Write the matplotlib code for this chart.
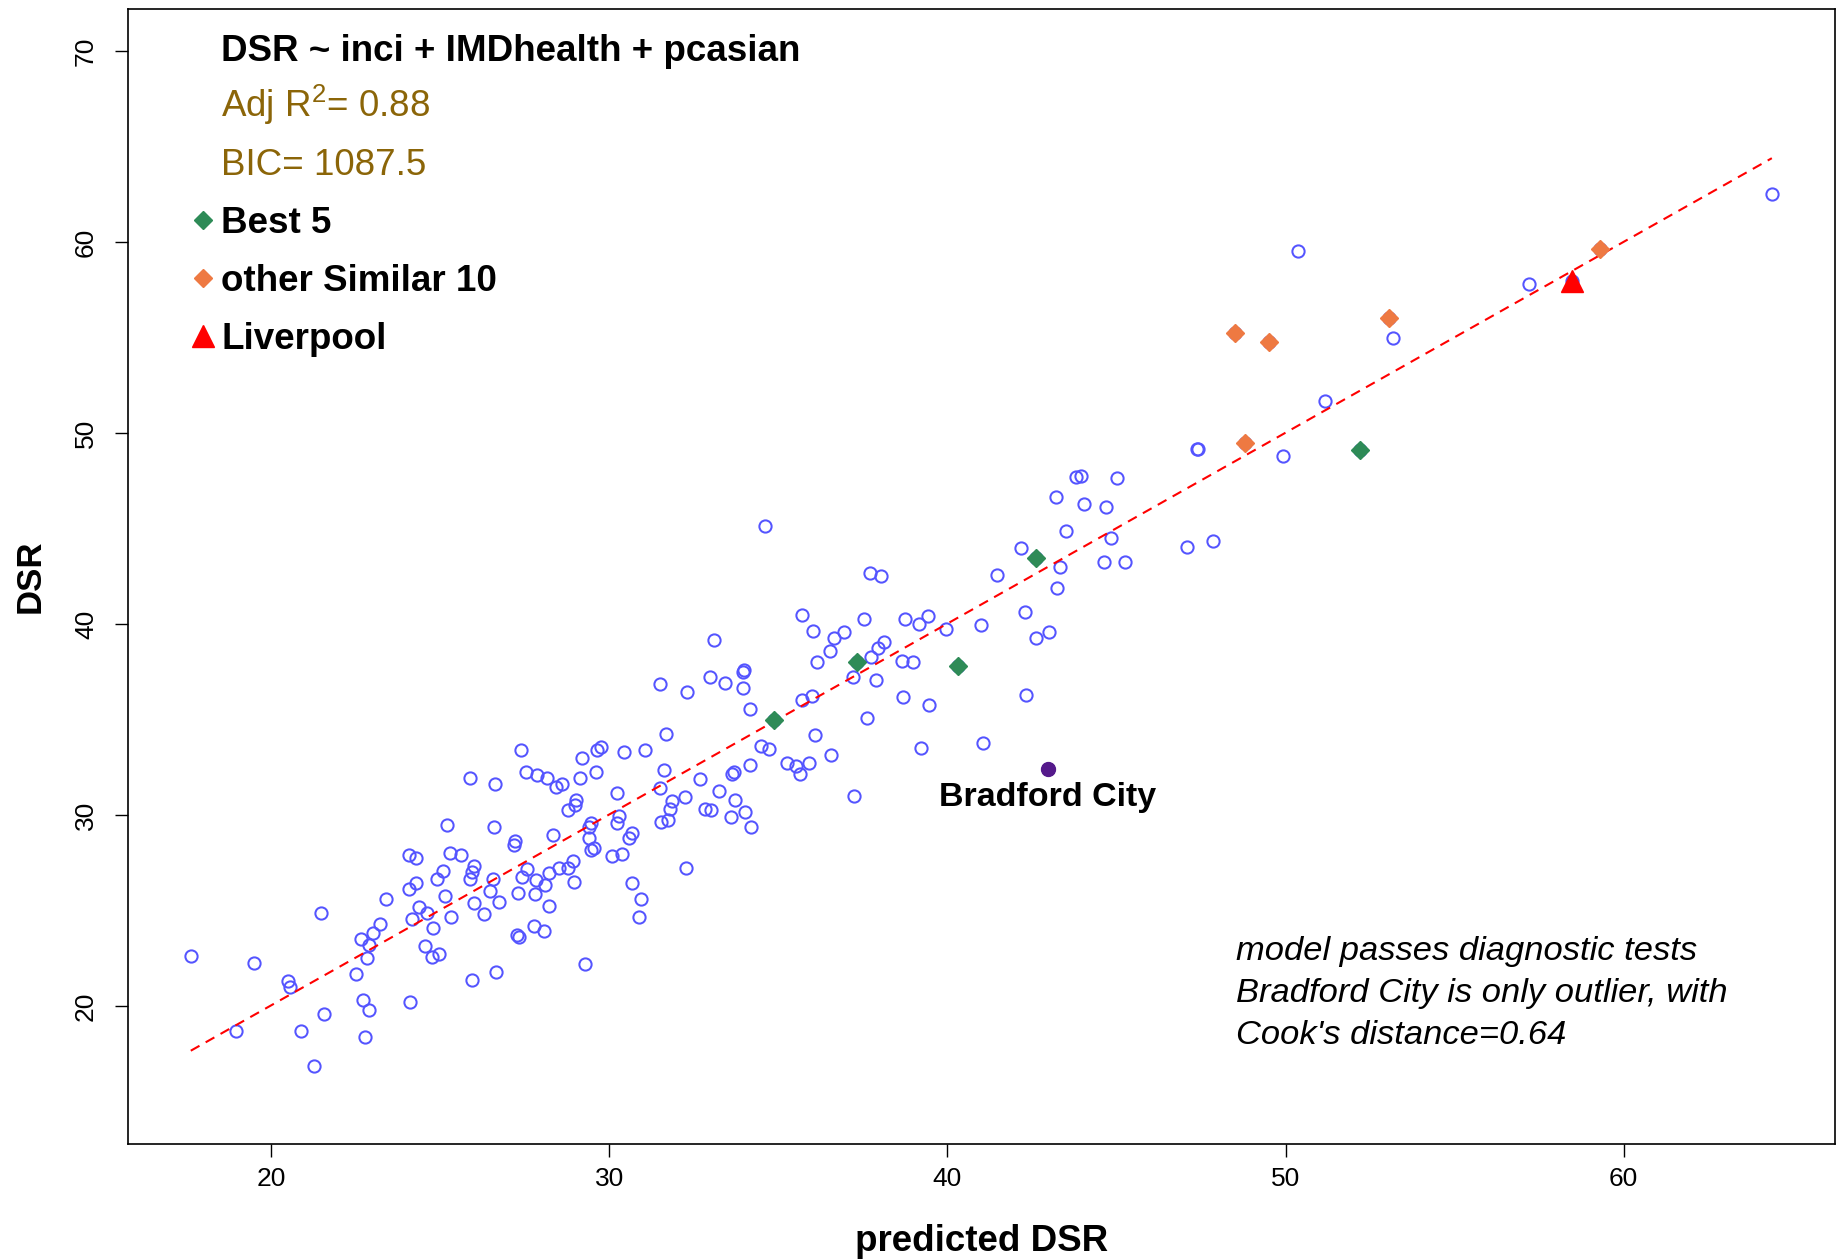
#!/usr/bin/env python3
"""Observed vs predicted DSR for the fitted CCG model, with comparators highlighted."""
import numpy as np

import matplotlib
matplotlib.use("Agg")
import matplotlib.pyplot as plt  # noqa: E402
from matplotlib.lines import Line2D  # noqa: E402

plt.rcParams["font.family"] = ["Liberation Sans", "DejaVu Sans"]
plt.rcParams["mathtext.fontset"] = "custom"
plt.rcParams["mathtext.rm"] = "Liberation Sans"
plt.rcParams["mathtext.default"] = "regular"

# all other CCGs: predicted DSR, observed DSR
pred = [
    17.62, 19.48, 20.50, 20.55, 21.46, 18.95, 20.89, 21.57, 21.26, 22.76,
    22.71, 22.90, 22.50, 22.83, 22.88, 22.64, 23.02, 23.21, 23.38, 24.11,
    24.16, 24.38, 24.62, 24.79, 24.54, 24.75, 24.96, 24.06, 24.28, 24.08,
    24.27, 24.91, 25.08, 25.14, 25.33, 25.21, 25.28, 25.61, 25.89, 26.61,
    26.60, 25.99, 25.93, 25.87, 25.99, 26.28, 25.95, 26.65, 26.55, 26.48,
    26.75, 27.22, 27.19, 27.38, 27.52, 27.86, 28.16, 28.43, 28.60, 29.12,
    29.18, 29.60, 29.64, 29.76, 30.42, 31.05, 31.50, 31.61, 31.51, 31.54,
    30.24, 30.28, 30.22, 30.66, 30.58, 30.07, 30.38, 30.68, 30.93, 30.89,
    29.28, 29.47, 29.41, 29.40, 29.45, 29.55, 29.00, 28.98, 28.78, 28.34,
    28.92, 28.79, 28.50, 28.21, 28.94, 27.57, 27.43, 27.84, 28.11, 27.81,
    27.29, 28.21, 27.76, 28.06, 27.26, 27.32,
    34.60, 37.72, 38.04, 35.71, 36.01, 36.63, 36.95, 37.52, 38.73, 39.17,
    39.41, 39.96, 33.08, 36.52, 36.13, 37.74, 37.95, 38.12, 38.65, 38.98,
    37.22, 37.90, 38.68, 39.44, 37.62, 39.22, 37.23, 33.99, 33.96, 32.99,
    33.43, 33.95, 32.31, 34.15, 35.71, 36.00, 36.08, 34.47, 34.72, 35.25,
    35.53, 35.64, 35.91, 36.54, 34.16, 33.64, 33.69, 32.69, 33.23, 33.72,
    34.01, 34.20, 33.59, 32.82, 33.01, 32.25, 31.86, 31.79, 31.74, 31.68,
    32.28,
    43.80, 43.96, 45.01, 43.21, 44.05, 44.69, 43.51, 44.83, 47.09, 47.85,
    42.17, 43.33, 44.63, 45.26, 41.45, 43.24, 42.30, 42.61, 42.99, 40.98,
    42.31, 41.06, 49.92,
    50.36, 51.16, 47.39, 47.42, 64.38, 57.21, 53.17,
]
dsr = [
    22.64, 22.30, 21.34, 21.04, 24.87, 18.71, 18.71, 19.61, 16.90, 18.41,
    20.36, 19.80, 21.69, 22.56, 23.22, 23.53, 23.83, 24.33, 25.64, 20.24,
    24.56, 25.19, 24.91, 24.11, 23.18, 22.57, 22.73, 26.13, 26.48, 27.94,
    27.77, 26.69, 27.09, 25.78, 24.68, 29.51, 28.04, 27.92, 31.95, 31.63,
    29.37, 27.35, 27.03, 26.69, 25.40, 24.84, 21.41, 21.81, 26.69, 26.06,
    25.47, 28.65, 28.43, 33.41, 32.26, 32.09, 31.95, 31.49, 31.62, 31.95,
    33.01, 32.29, 33.44, 33.58, 33.34, 33.44, 36.89, 32.38, 31.44, 29.66,
    31.16, 29.96, 29.58, 29.09, 28.81, 27.90, 27.97, 26.44, 25.64, 24.68,
    22.21, 29.61, 29.39, 28.83, 28.20, 28.27, 30.83, 30.57, 30.27, 28.97,
    27.59, 27.24, 27.26, 26.96, 26.49, 27.17, 26.79, 26.63, 26.34, 25.90,
    25.94, 25.24, 24.21, 23.93, 23.72, 23.65,
    45.12, 42.68, 42.54, 40.50, 39.63, 39.31, 39.59, 40.26, 40.26, 40.03,
    40.41, 39.75, 39.19, 38.62, 38.02, 38.29, 38.77, 39.05, 38.10, 38.03,
    37.26, 37.07, 36.20, 35.80, 35.08, 33.55, 31.04, 37.62, 37.52, 37.26,
    36.93, 36.68, 36.46, 35.57, 36.06, 36.26, 34.23, 33.62, 33.50, 32.73,
    32.57, 32.17, 32.73, 33.18, 32.64, 32.19, 32.28, 31.89, 31.30, 30.80,
    30.17, 29.38, 29.93, 30.31, 30.26, 30.94, 30.74, 30.34, 29.78, 34.26,
    27.26,
    47.69, 47.76, 47.66, 46.68, 46.30, 46.13, 44.89, 44.51, 44.04, 44.37,
    43.98, 43.02, 43.25, 43.25, 42.59, 41.89, 40.62, 39.26, 39.59, 39.94,
    36.28, 33.79, 48.81,
    59.52, 51.68, 49.16, 49.19, 62.54, 57.83, 55.01,
]

# highlighted groups
best5_pred = [37.31, 34.87, 42.61, 40.32, 52.21]
best5_dsr = [38.01, 35.01, 43.46, 37.80, 49.12]
similar_pred = [48.51, 49.50, 48.80, 53.07, 59.30]
similar_dsr = [55.27, 54.75, 49.47, 56.04, 59.63]
liverpool = (58.46, 57.98)
bradford = (42.97, 32.45)

model_formula = "DSR ~ inci + IMDhealth + pcasian"
adj_r2 = 0.88
bic = 1087.5
ylim_data = (15, 70)
x_ticks = [20, 30, 40, 50, 60]
y_ticks = [20, 30, 40, 50, 60, 70]

BLUE = "#5454ff"
GREEN = "#2e8b57"
ORANGE = "#ee7942"
GOLD = "#8b6508"
PURPLE = "#551a8b"

x_all = np.array(pred + best5_pred + similar_pred + [liverpool[0], bradford[0]])
y_all = np.array(dsr + best5_dsr + similar_dsr + [liverpool[1], bradford[1]])

fig = plt.figure(figsize=(18.43, 12.59), dpi=100)
ax = fig.add_axes([0.0692, 0.0913, 0.9265, 0.9015])

ax.plot(x_all, y_all, ls="none", marker="o", ms=8.8, mfc="none",
        mec=BLUE, mew=1.45, zorder=2)

# least-squares line of observed on predicted
slope, icpt = np.polyfit(x_all, y_all, 1)
xl = np.array([x_all.min(), x_all.max()])
ax.plot(xl, icpt + slope * xl, color="red", lw=1.5, ls=(0, (4.8, 3.4)), zorder=3)

DIAMOND_MS = 9.5
ax.plot(best5_pred, best5_dsr, ls="none", marker="D", ms=DIAMOND_MS, color=GREEN, zorder=4)
ax.plot(similar_pred, similar_dsr, ls="none", marker="D", ms=DIAMOND_MS, color=ORANGE,
        zorder=4)
ax.plot(*liverpool, ls="none", marker="^", ms=16, color="red", zorder=4)
ax.plot(*bradford, ls="none", marker="o", ms=10, color=PURPLE, zorder=4)
ax.annotate("Bradford City", bradford, xytext=(0, -10), textcoords="offset points",
            ha="center", va="top", fontsize=24.5, fontweight="bold")

ax.text(48.54, 20.67, "model passes diagnostic tests\n"
        "Bradford City is only outlier, with\nCook's distance=0.64",
        ha="left", va="center", fontsize=24.8, style="italic", linespacing=1.45)

# model summary lines, then the marker key underneath
hdr_x = 0.0548
ax.text(hdr_x, 0.9543, model_formula, transform=ax.transAxes, va="baseline",
        fontsize=26.5, fontweight="bold")
ax.text(hdr_x, 0.9049, f"Adj R$^2$= {adj_r2:.2f}", transform=ax.transAxes,
        va="baseline", fontsize=26.5, color=GOLD)
ax.text(hdr_x, 0.8535, f"BIC= {bic}", transform=ax.transAxes, va="baseline",
        fontsize=26.5, color=GOLD)

handles = [
    Line2D([], [], ls="none", marker="D", ms=DIAMOND_MS, color=GREEN),
    Line2D([], [], ls="none", marker="D", ms=DIAMOND_MS, color=ORANGE),
    Line2D([], [], ls="none", marker="^", ms=16, color="red"),
]
labels = ["Best 5", "other Similar 10", "Liverpool"]
leg = ax.legend(handles, labels, loc="upper left", bbox_to_anchor=(0.038, 0.8267),
                frameon=False, fontsize=26.5, borderpad=0, borderaxespad=0,
                handlelength=0.6, handletextpad=0.18, labelspacing=0.63)
for t in leg.get_texts():
    t.set_fontweight("bold")

xr = x_all.max() - x_all.min()
ax.set_xlim(x_all.min() - 0.04 * xr, x_all.max() + 0.04 * xr)
yr = ylim_data[1] - ylim_data[0]
ax.set_ylim(ylim_data[0] - 0.04 * yr, ylim_data[1] + 0.04 * yr)
ax.set_xticks(x_ticks)
ax.set_yticks(y_ticks)
ax.tick_params(axis="both", length=9.3, width=1, labelsize=19, direction="out")
ax.tick_params(axis="x", pad=7)
ax.tick_params(axis="y", pad=12, labelrotation=90)
for t in ax.get_yticklabels():
    t.set_va("center")
for s in ax.spines.values():
    s.set_linewidth(1.2)

ax.set_xlabel("predicted DSR", fontsize=26.5, fontweight="bold")
ax.set_ylabel("DSR", fontsize=25, fontweight="bold")
ax.xaxis.set_label_coords(0.5, -0.0705)
ax.yaxis.set_label_coords(-0.0475, 0.5)

fig.savefig("out.png", dpi=100)
